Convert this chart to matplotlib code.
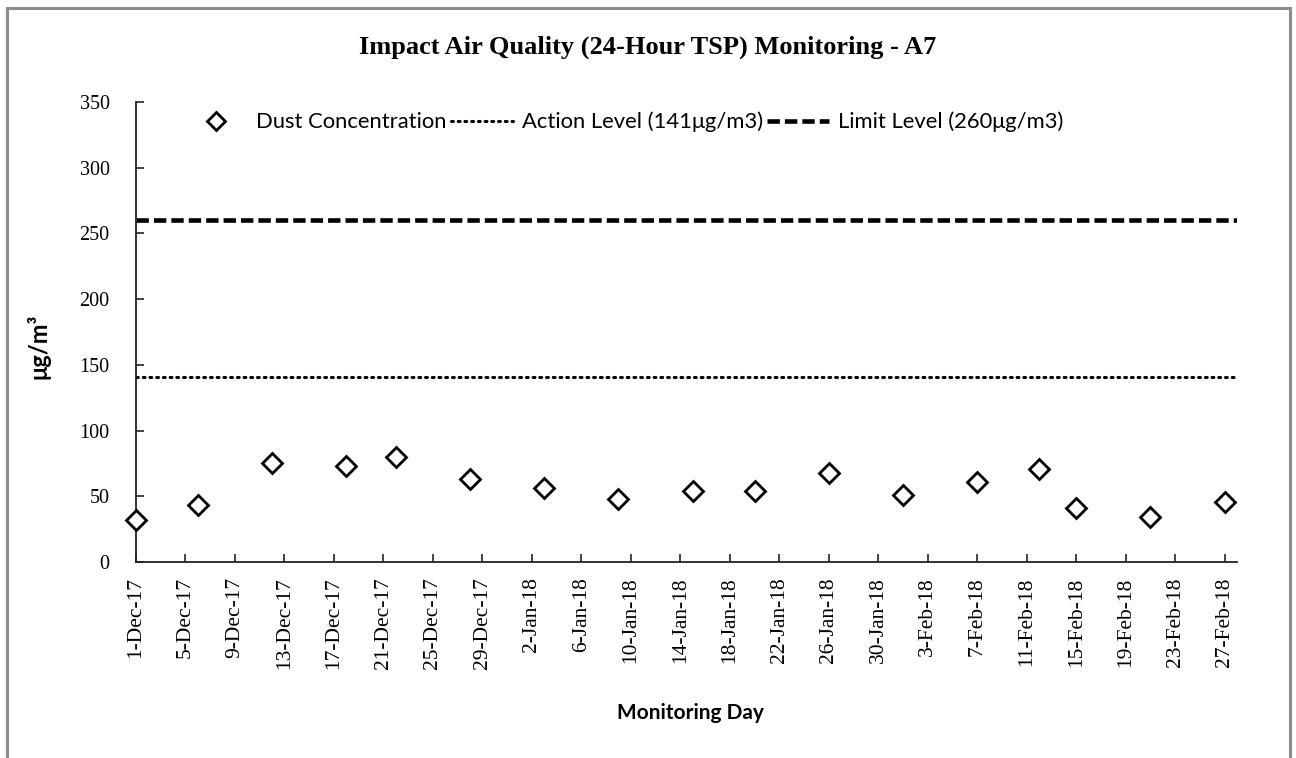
import matplotlib
matplotlib.use("Agg")
import matplotlib.pyplot as plt
from matplotlib.patches import Rectangle
import pandas as pd

# ---- data ----
sample_dates = ["2017-12-01", "2017-12-06", "2017-12-12", "2017-12-18", "2017-12-22",
                "2017-12-28", "2018-01-03", "2018-01-09", "2018-01-15", "2018-01-20",
                "2018-01-26", "2018-02-01", "2018-02-07", "2018-02-12", "2018-02-15",
                "2018-02-21", "2018-02-27"]
dust_values = [32, 43, 75, 73, 80, 63, 56, 48, 54, 54, 68, 51, 61, 71, 41, 34, 46]
action_level = 141
limit_level = 260
x_start = "2017-12-01"
x_end = "2018-02-28"
tick_dates = pd.date_range("2017-12-01", "2018-02-27", freq="4D")
y_ticks = [0, 50, 100, 150, 200, 250, 300, 350]

title = "Impact Air Quality (24-Hour TSP) Monitoring - A7"
xlabel = "Monitoring Day"
ylabel = "μg/m³"
legend_labels = ["Dust Concentration", "Action Level (141μg/m3)", "Limit Level (260μg/m3)"]

# ---- figure ----
W, H = 1296, 758
fig = plt.figure(figsize=(W / 100, H / 100), dpi=100)
fig.patch.set_facecolor("white")

# chart-area border (gray)
fig.patches.append(Rectangle((7 / W, -0.05), (1290 - 7) / W, 1.05 - 8 / H,
                             transform=fig.transFigure, fill=False,
                             edgecolor="#8c8c8c", linewidth=2.2, zorder=0))

ax = fig.add_axes([136 / W, 1 - 562 / H, (1237 - 136) / W, (562 - 102) / H])

xd = pd.to_datetime(sample_dates)
x0, x1 = pd.Timestamp(x_start), pd.Timestamp(x_end)

l_limit, = ax.plot([x0, x1], [limit_level, limit_level], color="black", lw=3.3,
                   linestyle=(0, (2.7, 1.1)), dash_capstyle="butt")
l_action, = ax.plot([x0, x1], [action_level, action_level], color="black", lw=2.2,
                    linestyle=(0, (0.6, 1.6)), dash_capstyle="round")
l_dust, = ax.plot(xd, dust_values, linestyle="none", marker="D", markersize=10.5,
                  markerfacecolor="white", markeredgecolor="black", markeredgewidth=2,
                  clip_on=False, zorder=5)

ax.set_xlim(x0, x1)
ax.set_ylim(0, 350)
ax.set_yticks(y_ticks)
ax.set_xticks(tick_dates)
ax.set_xticklabels([f"{d.day}-{d.strftime('%b-%y')}" for d in tick_dates],
                   rotation=90, fontfamily="Liberation Serif", fontsize=15.5)
ax.set_yticklabels([str(v) for v in y_ticks], fontfamily="Liberation Serif", fontsize=14.5)

for s in ["top", "right"]:
    ax.spines[s].set_visible(False)
for s in ["left", "bottom"]:
    ax.spines[s].set_linewidth(1.3)
    ax.spines[s].set_color("#222222")
ax.tick_params(axis="both", direction="in", length=6, width=1.2, color="#222222")
ax.tick_params(axis="x", pad=11)
ax.tick_params(axis="y", pad=19)

fig.text(648 / W, 1 - 47 / H, title, ha="center", va="center",
         fontfamily="Liberation Serif", fontweight="bold", fontsize=19)
fig.text(690 / W, 1 - 713 / H, xlabel, ha="center", va="center",
         fontfamily="Lato", fontweight="bold", fontsize=15)
fig.text(38 / W, 1 - 346 / H, ylabel, ha="center", va="center", rotation=90,
         fontfamily="Lato", fontweight="bold", fontsize=17)

fs = 15.8
px = fs * 100 / 72
leg = fig.legend([l_dust, l_action, l_limit], legend_labels, ncol=3, frameon=False,
                 loc="center left", bbox_to_anchor=(185 / W, 1 - 122 / H),
                 prop={"family": "Lato", "size": fs}, handlelength=62 / px,
                 columnspacing=4 / px, handletextpad=9 / px, borderpad=0,
                 borderaxespad=0)
leg.legend_handles[0].set_markersize(9)

fig.savefig("out.png", dpi=100, facecolor="white")
